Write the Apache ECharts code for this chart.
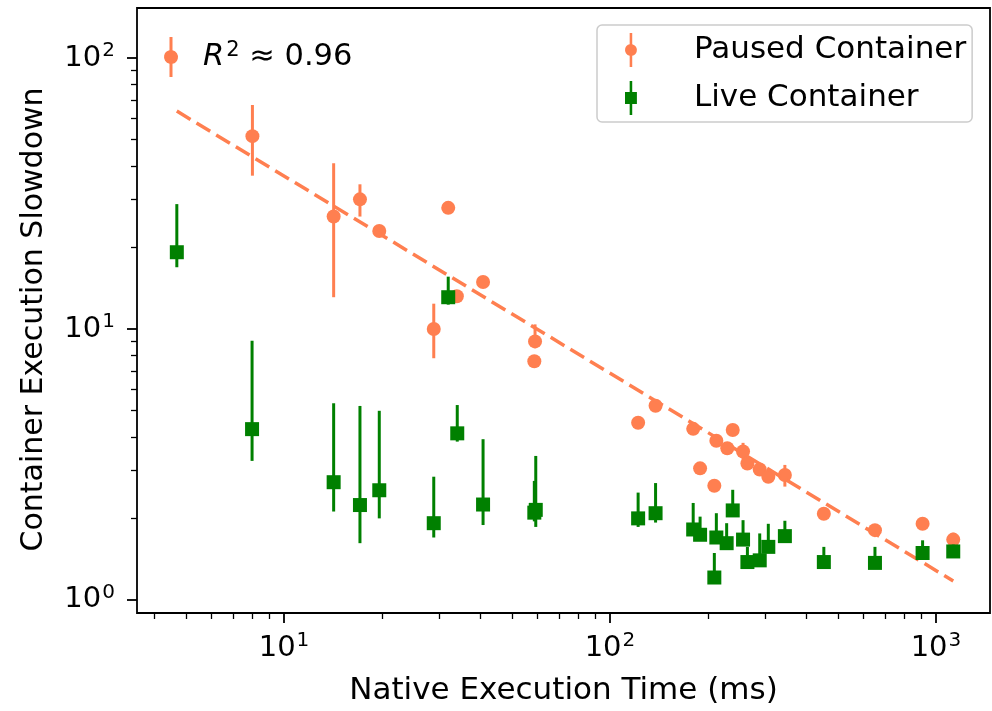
<!DOCTYPE html>
<html><head><meta charset="utf-8">
<script src="https://cdn.jsdelivr.net/npm/echarts@6/dist/echarts.min.js"></script>
<style>html,body{margin:0;padding:0;background:#fff}#c{width:992px;height:711px}</style>
</head><body><div id="c"></div>
<script>
// ---- axis ranges and ticks (data units) ----
const xRange = [3.54, 1465];
const yRange = [0.895, 153];
const xMajorTicks = [10, 100, 1000];
const yMajorTicks = [1, 10, 100];
const xMinorTicks = [4,5,6,7,8,9,20,30,40,50,60,70,80,90,200,300,400,500,600,700,800,900];
const yMinorTicks = [2,3,4,5,6,7,8,9,20,30,40,50,60,70,80,90];

// ---- Paused Container ----
const pausedX  = [8.0, 14.2, 17.1, 19.6, 31.9, 28.8, 33.9, 40.8, 58.9, 58.6, 122, 138, 180, 189, 212, 209, 229, 238, 256, 264, 288, 306, 344, 453, 650, 910, 1130];
const pausedY  = [51.5, 26.0, 30.1, 23.0, 28.0, 10.0, 13.2, 14.9, 9.0, 7.6, 4.51, 5.21, 4.28, 3.06, 3.87, 2.64, 3.63, 4.24, 3.53, 3.19, 3.03, 2.85, 2.89, 2.08, 1.81, 1.91, 1.67];
const pausedLo = [36.8, 13.1, 26.0, null, null, 7.8, null, null, 8.5, null, null, null, null, null, null, null, null, null, 3.29, null, null, null, 2.62, null, null, null, 1.60];
const pausedHi = [67.1, 40.9, 34.2, null, null, 12.4, null, null, 10.4, null, null, null, null, null, null, null, null, null, 3.80, null, null, null, 3.15, null, null, null, 1.77];

// ---- Live Container ----
const liveX  = [4.69, 7.98, 14.2, 17.1, 19.6, 28.8, 31.9, 34.0, 40.8, 59.2, 58.6, 122, 138, 180, 189, 212, 209, 228, 238, 256, 264, 288, 306, 344, 453, 650, 910, 1130];
const liveY  = [19.2, 4.27, 2.72, 2.24, 2.54, 1.92, 13.1, 4.12, 2.25, 2.15, 2.10, 2.00, 2.09, 1.82, 1.74, 1.70, 1.21, 1.62, 2.14, 1.67, 1.38, 1.40, 1.57, 1.72, 1.38, 1.37, 1.49, 1.51];
const liveLo = [16.9, 3.26, 2.12, 1.62, 2.00, 1.70, 12.3, 3.84, 1.89, 1.86, 1.95, 1.86, 1.93, 1.75, 1.68, 1.64, 1.17, 1.57, 2.06, 1.61, 1.33, 1.35, 1.52, 1.66, 1.33, 1.32, 1.44, 1.46];
const liveHi = [28.9, 9.05, 5.32, 5.20, 4.99, 2.85, 15.6, 5.24, 3.92, 3.40, 2.75, 2.49, 2.70, 2.28, 2.03, 2.09, 1.49, 1.92, 2.55, 1.97, 1.57, 1.76, 1.91, 1.96, 1.57, 1.57, 1.66, 1.60];

// ---- fit line (power law) ----
const fitX = [4.69, 1130];
const fitY = [63.7, 1.175];
const r2Label = 'R² ≈ 0.96';

const ORANGE = '#FF7F50';
const GREEN = '#008000';
const FONT = 'DejaVu Sans';
const L = Math.log10;

const circIcon = 'path://M5.5,0 H8.5 V13.163 A7,7 0 0 1 8.5,26.837 V40 H5.5 V26.837 A7,7 0 0 1 5.5,13.163 Z';
const sqIcon = 'path://M5.5,0 H8.5 V13 H14 V27 H8.5 V40 H5.5 V27 H0 V13 H5.5 Z';

const pts = (xs, ys) => xs.map((x, i) => [L(x), L(ys[i])]);
const errs = (xs, lo, hi) => xs.map((x, i) => lo[i] == null ? null : [L(x), L(lo[i]), L(hi[i])]).filter(Boolean);

function errRender(color) {
  return function (params, api) {
    const a = api.coord([api.value(0), api.value(1)]);
    const b = api.coord([api.value(0), api.value(2)]);
    return { type: 'line', shape: { x1: a[0], y1: a[1], x2: b[0], y2: b[1] },
             style: { stroke: color, lineWidth: 3 } };
  };
}

const tickRich = {
  b: { fontFamily: FONT, fontSize: 29, lineHeight: 34, color: '#000' },
  s: { fontFamily: FONT, fontSize: 20, lineHeight: 20, verticalAlign: 'top', color: '#000', padding: [0, 0, 0, 1] }
};
const powFmt = v => '{b|10}{s|' + Math.round(v) + '}';

const chart = echarts.init(document.getElementById('c'), null, { renderer: 'canvas' });
chart.setOption({
  animation: false,
  backgroundColor: '#fff',
  grid: { left: 137, right: 2, top: 8, bottom: 98, show: true, borderColor: '#000', borderWidth: 1.8, backgroundColor: 'transparent' },
  legend: [
    { left: 597, top: 25, orient: 'vertical', selectedMode: false,
      itemWidth: 22, itemHeight: 34, itemGap: 14,
      padding: [8, 6, 7, 28], borderColor: '#cccccc', borderWidth: 1.5, borderRadius: 5,
      backgroundColor: 'rgba(255,255,255,0.8)',
      textStyle: { fontFamily: FONT, fontSize: 31, lineHeight: 30, color: '#000', padding: [0, 0, 0, 47] },
      data: [{ name: 'Paused Container', icon: circIcon }, { name: 'Live Container', icon: sqIcon }] },
    { left: 164, top: 37, orient: 'vertical', selectedMode: false,
      itemWidth: 22, itemHeight: 40, padding: 0,
      formatter: () => '{i|R}{s|2}{n| ≈ 0.96}',
      textStyle: { fontFamily: FONT, fontSize: 30, color: '#000', padding: [0, 0, 0, 16],
        rich: {
          i: { fontFamily: FONT, fontSize: 30.5, fontStyle: 'italic', lineHeight: 34, color: '#000' },
          s: { fontFamily: FONT, fontSize: 21, lineHeight: 21, verticalAlign: 'top', color: '#000', padding: [0, 0, 0, 2] },
          n: { fontFamily: FONT, fontSize: 30.5, lineHeight: 34, color: '#000' }
        } },
      data: [{ name: r2Label, icon: circIcon }] }
  ],
  xAxis: [
    { type: 'value', min: L(xRange[0]), max: L(xRange[1]), position: 'bottom',
      axisLine: { show: false, onZero: false }, splitLine: { show: false },
      axisTick: { show: true, customValues: xMajorTicks.map(L), length: 10, lineStyle: { color: '#000', width: 1.8 } },
      axisLabel: { show: true, customValues: xMajorTicks.map(L), margin: 18, formatter: powFmt, rich: tickRich },
      name: 'Native Execution Time (ms)', nameLocation: 'middle', nameGap: 62,
      nameTextStyle: { fontFamily: FONT, fontSize: 31, color: '#000' } },
    { type: 'value', min: L(xRange[0]), max: L(xRange[1]), position: 'bottom',
      axisLine: { show: false, onZero: false }, splitLine: { show: false }, axisLabel: { show: false },
      axisTick: { show: true, customValues: xMinorTicks.map(L), length: 6, lineStyle: { color: '#000', width: 1.3 } } }
  ],
  yAxis: [
    { type: 'value', min: L(yRange[0]), max: L(yRange[1]), position: 'left',
      axisLine: { show: false, onZero: false }, splitLine: { show: false },
      axisTick: { show: true, customValues: yMajorTicks.map(L), length: 10, lineStyle: { color: '#000', width: 1.8 } },
      axisLabel: { show: true, customValues: yMajorTicks.map(L), margin: 22, formatter: powFmt, rich: tickRich },
      name: 'Container Execution Slowdown', nameLocation: 'middle', nameGap: 88, nameRotate: 90,
      nameTextStyle: { fontFamily: FONT, fontSize: 30, color: '#000', padding: [0, 18, 0, 0] } },
    { type: 'value', min: L(yRange[0]), max: L(yRange[1]), position: 'left',
      axisLine: { show: false, onZero: false }, splitLine: { show: false }, axisLabel: { show: false },
      axisTick: { show: true, customValues: yMinorTicks.map(L), length: 6, lineStyle: { color: '#000', width: 1.3 } } }
  ],
  series: [
    { type: 'custom', name: 'pausedErr', renderItem: errRender(ORANGE), data: errs(pausedX, pausedLo, pausedHi),
      encode: { x: 0, y: [1, 2] }, z: 2, silent: true },
    { type: 'scatter', name: 'Paused Container', data: pts(pausedX, pausedY), symbol: 'circle', symbolSize: 14,
      itemStyle: { color: ORANGE, opacity: 1 }, z: 3 },
    { type: 'line', name: 'fit', data: pts(fitX, fitY), symbol: 'none', showSymbol: false,
      lineStyle: { color: ORANGE, width: 3.5, type: [16, 7] }, z: 4, silent: true },
    { type: 'custom', name: 'liveErr', renderItem: errRender(GREEN), data: errs(liveX, liveLo, liveHi),
      encode: { x: 0, y: [1, 2] }, z: 5, silent: true },
    { type: 'scatter', name: 'Live Container', data: pts(liveX, liveY), symbol: 'rect', symbolSize: 14,
      itemStyle: { color: GREEN, opacity: 1 }, z: 6 },
    { type: 'scatter', name: r2Label, data: [], itemStyle: { color: ORANGE, opacity: 1 } }
  ]
});
</script></body></html>
